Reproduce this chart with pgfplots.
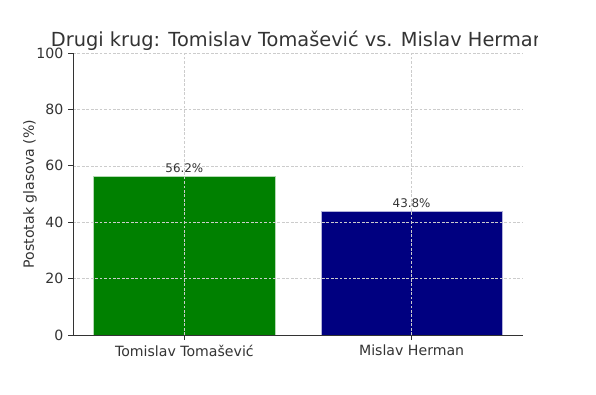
\documentclass[border=0pt]{standalone}
\usepackage{pgfplots}
\pgfplotsset{compat=1.18}
\usepackage{fontspec}
\setmainfont{DejaVu Sans}
\definecolor{txt}{HTML}{333333}
\definecolor{gridc}{HTML}{CCCCCC}
\definecolor{mygreen}{HTML}{008000}
\definecolor{mynavy}{HTML}{000080}
\begin{document}
\begin{tikzpicture}
\useasboundingbox (-52.56bp,-43.2bp) rectangle (376.56bp,241.2bp);
\begin{axis}[
  scale only axis,
  width=324bp, height=203.04bp,
  xmin=-0.49, xmax=1.49,
  ymin=0, ymax=100,
  xtick={0,1},
  xticklabels={Tomislav Tomašević, Mislav Herman},
  ytick={0,20,40,60,80,100},
  /pgf/number format/assume math mode=true,
  axis x line*=bottom,
  axis y line*=left,
  axis line style={txt, line width=0.6pt},
  tick align=outside,
  major tick length=3.5bp,
  tick style={txt, line width=0.6pt},
  tick label style={font=\fontsize{10.2}{12}\selectfont, text=txt},
  grid=major,
  major grid style={gridc, dash pattern=on 2bp off 1.2bp, line width=0.4pt},
  axis on top,
  ylabel={Postotak glasova (\%)},
  every axis y label/.style={at={(axis description cs:-0.0957,0.5)}, rotate=90, anchor=center, font=\fontsize{10.2}{12}\selectfont, text=txt},
  ybar, bar width=0.8,
  nodes near coords={\pgfmathprintnumber[fixed,fixed zerofill,precision=1]{\pgfplotspointmeta}\%},
  every node near coord/.style={font=\fontsize{8.6}{10}\selectfont, text=txt, anchor=south, yshift=-1bp},
]
\addplot[ybar, bar shift=0pt, fill=mygreen, draw=white!70!mygreen, line width=0.3pt] coordinates {(0,56.2)};
\addplot[ybar, bar shift=0pt, fill=mynavy, draw=white!70!mynavy, line width=0.3pt] coordinates {(1,43.8)};
\coordinate (T) at (rel axis cs:0.5,1);
\end{axis}
\begin{scope}
\clip (-52.56bp,180bp) rectangle (334.1bp,241.2bp);
\node[anchor=base, font=\fontsize{14}{16}\selectfont, text=txt, inner sep=0pt] at ([yshift=5bp]T) {Drugi krug: Tomislav Tomašević vs. Mislav Herman};
\end{scope}
\end{tikzpicture}
\end{document}
